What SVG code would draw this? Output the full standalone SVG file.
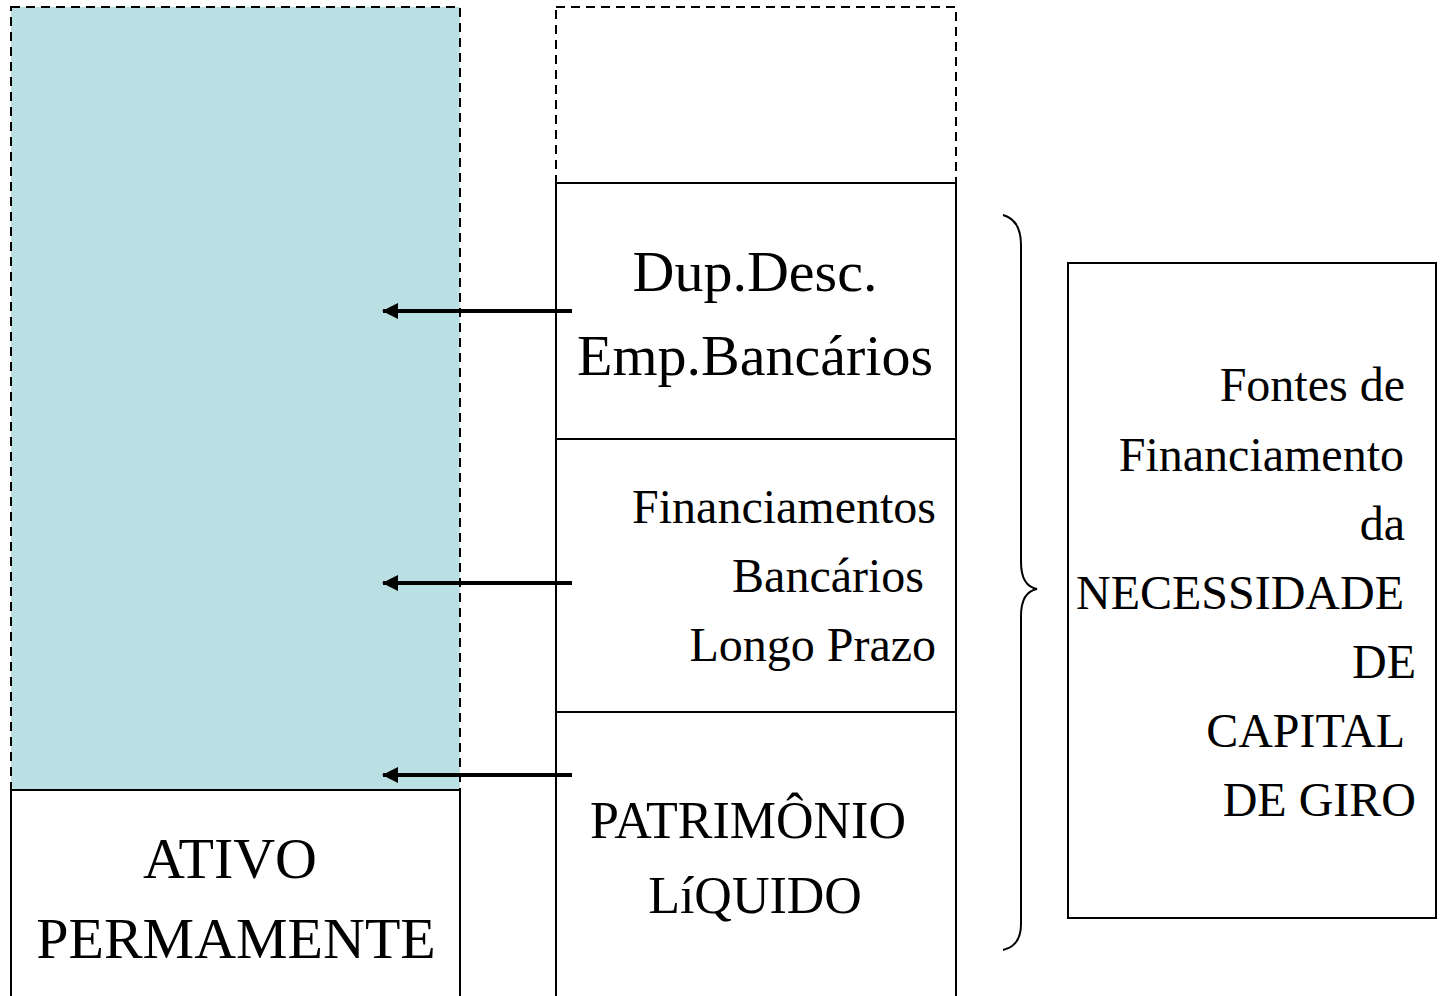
<svg xmlns="http://www.w3.org/2000/svg" width="1443" height="996" viewBox="0 0 1443 996">
<style>
.dash{fill:none;stroke:#000;stroke-width:2;stroke-dasharray:9,6}
.box{fill:#fff;stroke:#000;stroke-width:2}
.t{font-family:"Liberation Serif","Times New Roman",serif;fill:#000}
.r{font-size:48px;text-anchor:end}
.arr{stroke:#000;stroke-width:4;fill:none}
</style>
<defs>
<marker id="ah" markerUnits="userSpaceOnUse" markerWidth="18" markerHeight="18" refX="16" refY="9" orient="auto" viewBox="0 0 18 18">
<path d="M1,1 L17,9 L1,17 Z" fill="#000"/>
</marker>
</defs>
<rect width="1443" height="996" fill="#fff"/>
<g id="ativo-circulante">
<rect x="11" y="7" width="449" height="783" fill="#BBE0E3"/>
<rect x="11" y="7" width="449" height="783" class="dash"/>
</g>
<g id="ativo-permanente">
<rect x="11" y="790" width="449" height="220" class="box"/>
<text class="t" x="230" y="878" font-size="58" text-anchor="middle">ATIVO</text>
<text class="t" x="236" y="958" font-size="58" text-anchor="middle">PERMAMENTE</text>
</g>
<g id="passivo-topo">
<rect x="556" y="7" width="400" height="176" class="dash"/>
</g>
<g id="dup-desc">
<rect x="556" y="183" width="400" height="256" class="box"/>
<text class="t" x="755" y="291" font-size="58" text-anchor="middle">Dup.Desc.</text>
<text class="t" x="755" y="375" font-size="58" text-anchor="middle">Emp.Bancários</text>
</g>
<g id="financiamentos">
<rect x="556" y="439" width="400" height="273" class="box"/>
<text class="t" x="936" y="523" font-size="48" text-anchor="end">Financiamentos</text>
<text class="t" x="924" y="592" font-size="48" text-anchor="end">Bancários</text>
<text class="t" x="936" y="661" font-size="48" text-anchor="end">Longo Prazo</text>
</g>
<g id="patrimonio">
<rect x="556" y="712" width="400" height="300" class="box"/>
<text class="t" x="748" y="838" font-size="52" text-anchor="middle">PATRIMÔNIO</text>
<text class="t" x="755" y="913" font-size="52" text-anchor="middle">LíQUIDO</text>
</g>
<g id="fontes">
<rect x="1068" y="263" width="368" height="655" class="box"/>
<text class="t r" x="1405" y="401">Fontes de</text>
<text class="t r" x="1404" y="471">Financiamento</text>
<text class="t r" x="1405" y="540">da</text>
<text class="t r" x="1404" y="609">NECESSIDADE</text>
<text class="t r" x="1416" y="678">DE</text>
<text class="t r" x="1405" y="747">CAPITAL</text>
<text class="t r" x="1416" y="816">DE GIRO</text>
</g>
<g id="connectors">
<line x1="572" y1="311" x2="383" y2="311" class="arr" marker-end="url(#ah)"/>
<line x1="572" y1="583" x2="383" y2="583" class="arr" marker-end="url(#ah)"/>
<line x1="572" y1="775" x2="383" y2="775" class="arr" marker-end="url(#ah)"/>
<path d="M1003,215 Q1021,220 1021,245 L1021,562 Q1021,586 1037,589 Q1021,592 1021,616 L1021,924 Q1021,946 1003,950" fill="none" stroke="#000" stroke-width="2"/>
</g>
</svg>
